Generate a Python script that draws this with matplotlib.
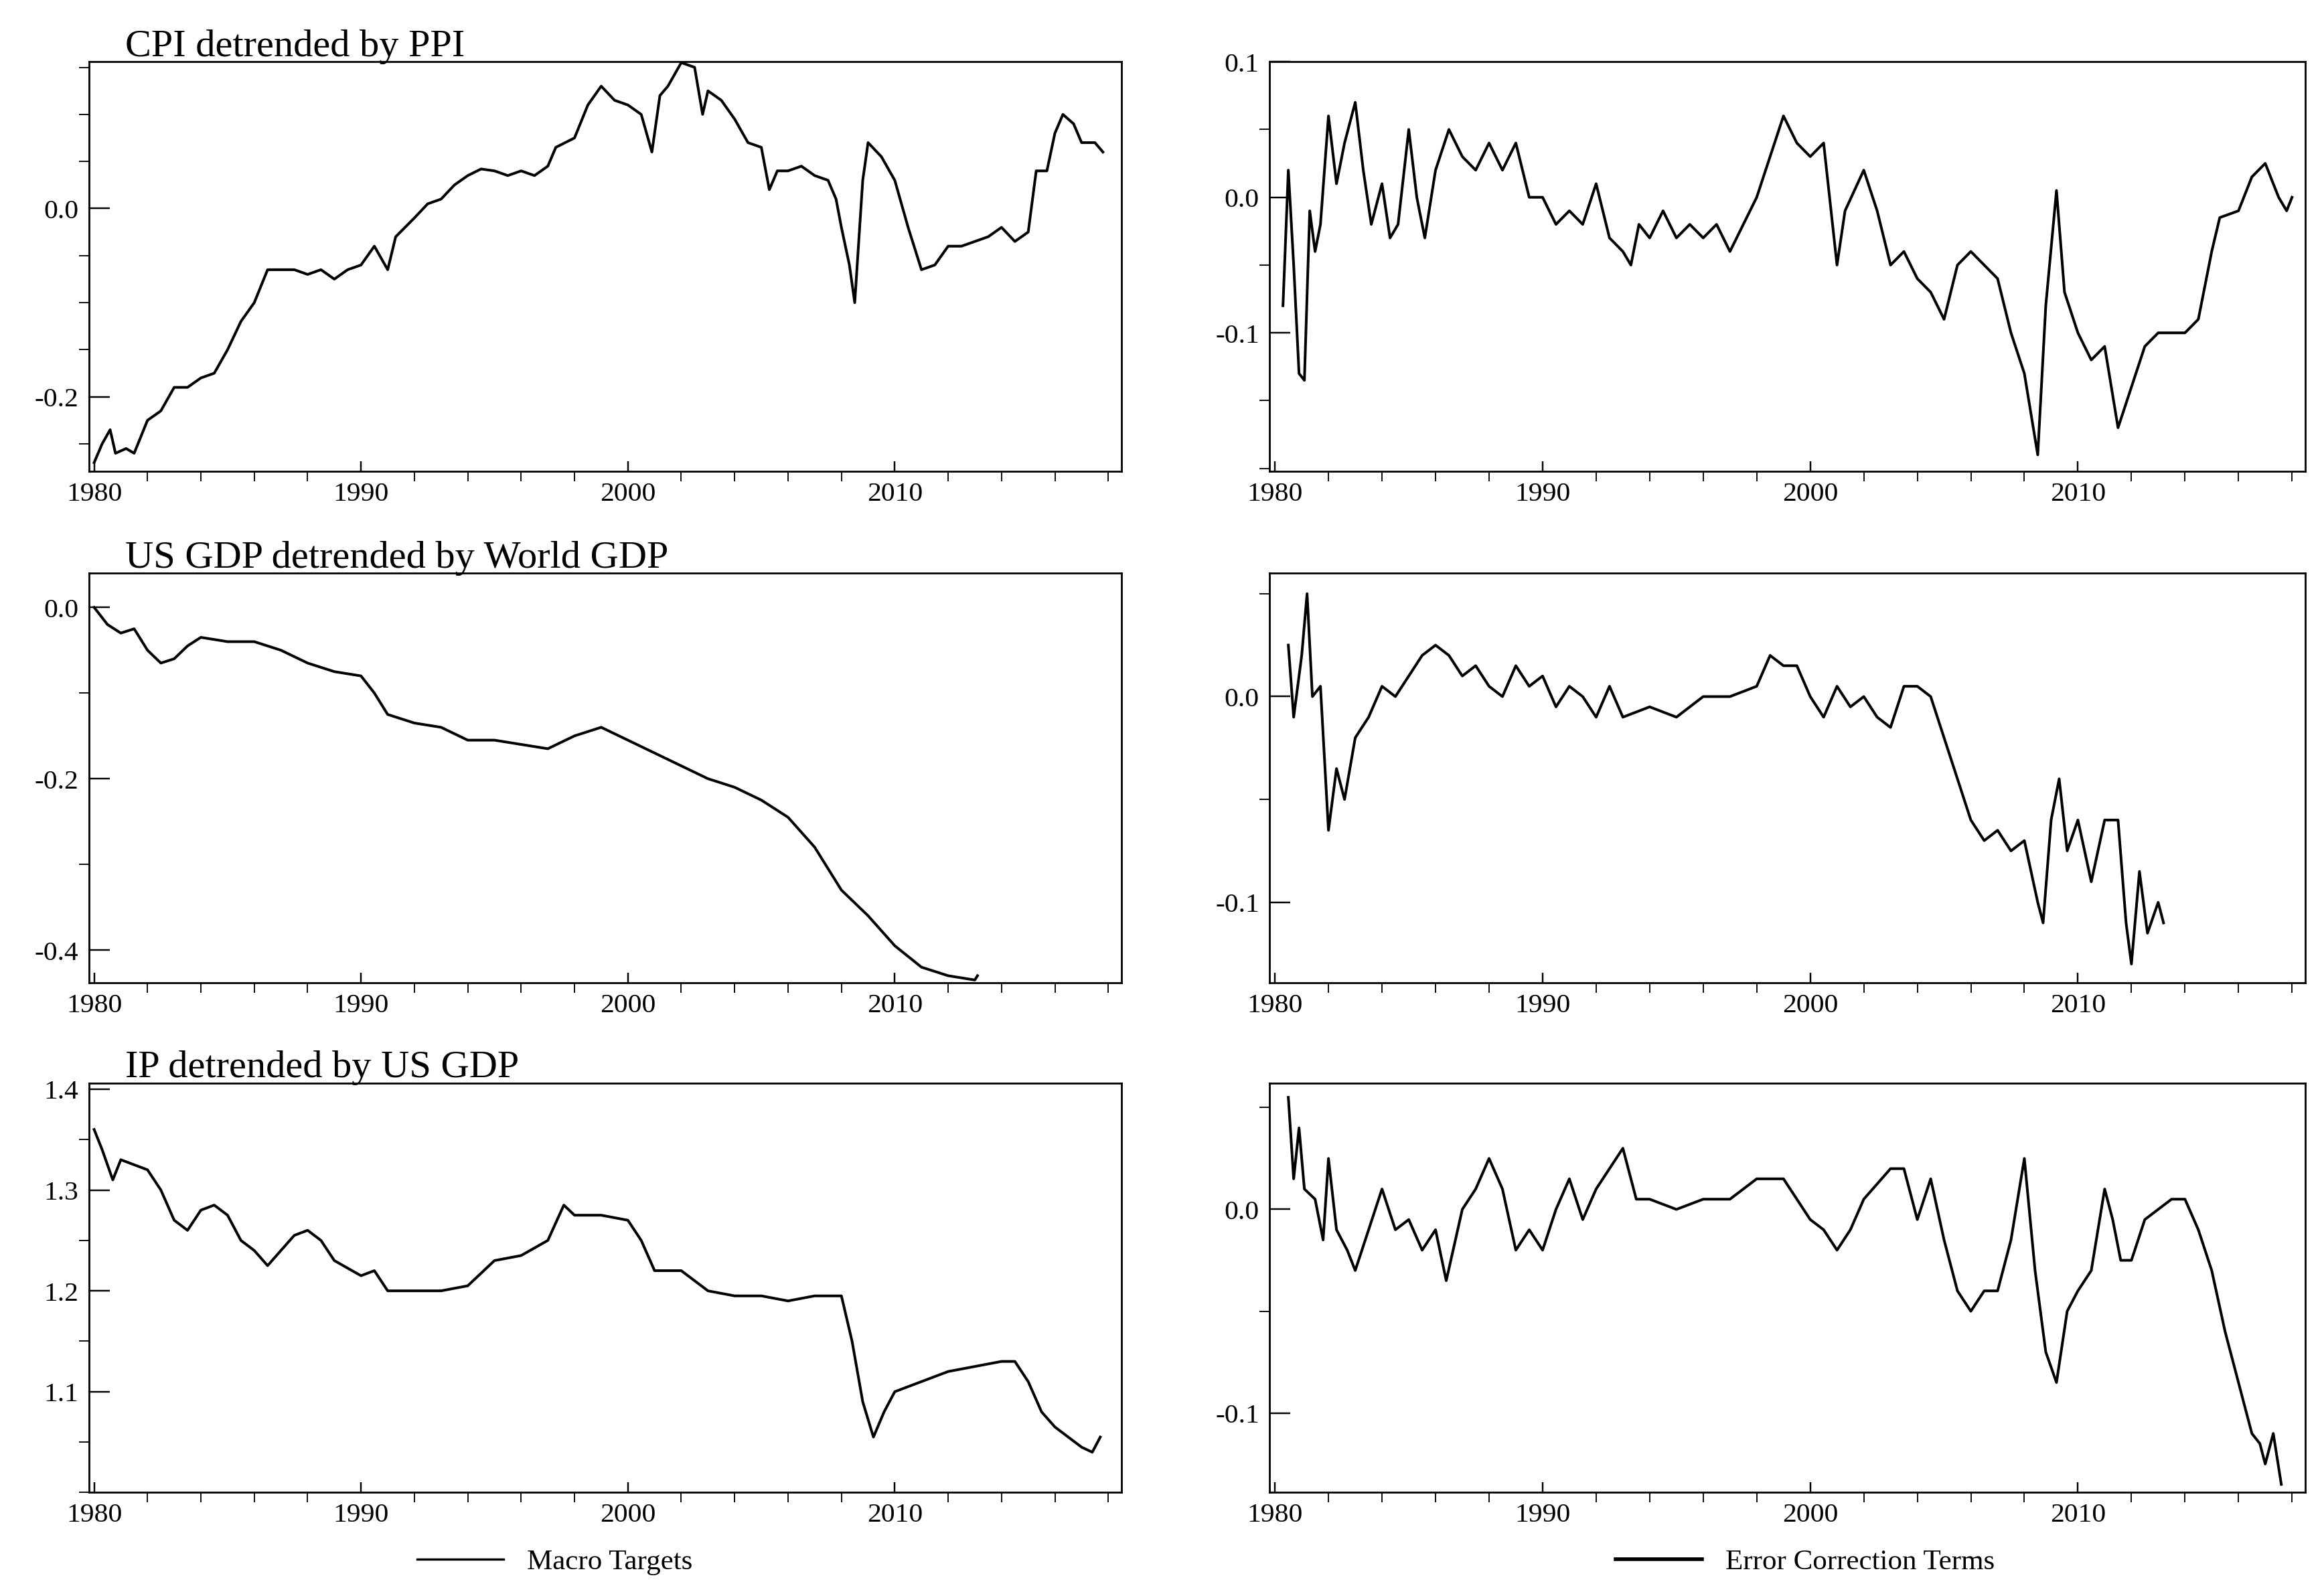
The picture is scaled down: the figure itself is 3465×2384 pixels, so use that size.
import matplotlib
matplotlib.use('Agg')
import matplotlib.pyplot as plt
from matplotlib.ticker import FormatStrFormatter, MultipleLocator
from matplotlib.lines import Line2D

plt.rcParams['font.family'] = ['Liberation Serif', 'DejaVu Serif']
plt.rcParams['axes.unicode_minus'] = False

# --- data ---
cpi_x = [1980.0, 1980.3, 1980.6, 1980.8, 1981.2, 1981.5, 1982, 1982.5, 1983, 1983.5, 1984, 1984.5, 1985, 1985.5,
         1986, 1986.5, 1987, 1987.5, 1988, 1988.5, 1989, 1989.5, 1990, 1990.5, 1991, 1991.3, 1992, 1992.5, 1993,
         1993.5, 1994, 1994.5, 1995, 1995.5, 1996, 1996.5, 1997, 1997.3, 1998, 1998.5, 1999, 1999.5, 2000, 2000.5,
         2000.9, 2001.2, 2001.5, 2002, 2002.5, 2002.8, 2003, 2003.5, 2004, 2004.5, 2005, 2005.3, 2005.6, 2006,
         2006.5, 2007, 2007.5, 2007.8, 2008, 2008.3, 2008.5, 2008.8, 2009, 2009.5, 2010, 2010.5, 2011, 2011.5,
         2012, 2012.5, 2013, 2013.5, 2014, 2014.5, 2015, 2015.3, 2015.7, 2016, 2016.3, 2016.7, 2017, 2017.5, 2017.8]
cpi_y = [-0.27, -0.25, -0.235, -0.26, -0.255, -0.26, -0.225, -0.215, -0.19, -0.19, -0.18, -0.175, -0.15, -0.12,
         -0.1, -0.065, -0.065, -0.065, -0.07, -0.065, -0.075, -0.065, -0.06, -0.04, -0.065, -0.03, -0.01, 0.005, 0.01,
         0.025, 0.035, 0.042, 0.04, 0.035, 0.04, 0.035, 0.045, 0.065, 0.075, 0.11, 0.13, 0.115, 0.11, 0.1,
         0.06, 0.12, 0.13, 0.155, 0.15, 0.1, 0.125, 0.115, 0.095, 0.07, 0.065, 0.02, 0.04, 0.04,
         0.045, 0.035, 0.03, 0.01, -0.02, -0.06, -0.1, 0.03, 0.07, 0.055, 0.03, -0.02, -0.065, -0.06,
         -0.04, -0.04, -0.035, -0.03, -0.02, -0.035, -0.025, 0.04, 0.04, 0.08, 0.1, 0.09, 0.07, 0.07, 0.06]

cpi_ec_x = [1980.3, 1980.5, 1980.7, 1980.9, 1981.1, 1981.3, 1981.5, 1981.7, 1982, 1982.3, 1982.6, 1983, 1983.3,
            1983.6, 1984, 1984.3, 1984.6, 1985, 1985.3, 1985.6, 1986, 1986.5, 1987, 1987.5, 1988, 1988.5, 1989,
            1989.5, 1990, 1990.5, 1991, 1991.5, 1992, 1992.5, 1993, 1993.3, 1993.6, 1994, 1994.5, 1995, 1995.5,
            1996, 1996.5, 1997, 1997.5, 1998, 1998.5, 1999, 1999.5, 2000, 2000.5, 2001, 2001.3, 2002, 2002.5,
            2003, 2003.5, 2004, 2004.5, 2005, 2005.5, 2006, 2006.5, 2007, 2007.5, 2008, 2008.5, 2008.8, 2009.2,
            2009.5, 2010, 2010.5, 2011, 2011.5, 2012, 2012.5, 2013, 2013.5, 2014, 2014.5, 2015, 2015.3, 2016,
            2016.5, 2017, 2017.5, 2017.8, 2018.0]
cpi_ec_y = [-0.08, 0.02, -0.05, -0.13, -0.135, -0.01, -0.04, -0.02, 0.06, 0.01, 0.04, 0.07, 0.02,
            -0.02, 0.01, -0.03, -0.02, 0.05, 0.0, -0.03, 0.02, 0.05, 0.03, 0.02, 0.04, 0.02, 0.04,
            0.0, 0.0, -0.02, -0.01, -0.02, 0.01, -0.03, -0.04, -0.05, -0.02, -0.03, -0.01, -0.03, -0.02,
            -0.03, -0.02, -0.04, -0.02, 0.0, 0.03, 0.06, 0.04, 0.03, 0.04, -0.05, -0.01, 0.02, -0.01,
            -0.05, -0.04, -0.06, -0.07, -0.09, -0.05, -0.04, -0.05, -0.06, -0.1, -0.13, -0.19, -0.08, 0.005,
            -0.07, -0.1, -0.12, -0.11, -0.17, -0.14, -0.11, -0.1, -0.1, -0.1, -0.09, -0.04, -0.015, -0.01,
            0.015, 0.025, 0.0, -0.01, 0.0]

gdp_x = [1980, 1980.5, 1981, 1981.5, 1982, 1982.5, 1983, 1983.5, 1984, 1985, 1986, 1987, 1988, 1989, 1990, 1990.5,
         1991, 1992, 1993, 1994, 1995, 1996, 1997, 1998, 1999, 2000, 2001, 2002, 2003, 2004, 2005, 2006, 2007,
         2008, 2009, 2010, 2011, 2012, 2013, 2013.1]
gdp_y = [0.0, -0.02, -0.03, -0.025, -0.05, -0.065, -0.06, -0.045, -0.035, -0.04, -0.04, -0.05, -0.065, -0.075,
         -0.08, -0.1, -0.125, -0.135, -0.14, -0.155, -0.155, -0.16, -0.165, -0.15, -0.14, -0.155, -0.17, -0.185,
         -0.2, -0.21, -0.225, -0.245, -0.28, -0.33, -0.36, -0.395, -0.42, -0.43, -0.435, -0.43]

gdp_ec_x = [1980.5, 1980.7, 1981, 1981.2, 1981.4, 1981.7, 1982, 1982.3, 1982.6, 1983, 1983.5, 1984, 1984.5, 1985,
            1985.5, 1986, 1986.5, 1987, 1987.5, 1988, 1988.5, 1989, 1989.5, 1990, 1990.5, 1991, 1991.5, 1992,
            1992.5, 1993, 1994, 1995, 1996, 1997, 1998, 1998.5, 1999, 1999.5, 2000, 2000.5, 2001, 2001.5, 2002,
            2002.5, 2003, 2003.5, 2004, 2004.5, 2005, 2005.5, 2006, 2006.5, 2007, 2007.5, 2008, 2008.5, 2008.7,
            2009, 2009.3, 2009.6, 2010, 2010.5, 2011, 2011.5, 2011.8, 2012, 2012.3, 2012.6, 2013, 2013.2]
gdp_ec_y = [0.025, -0.01, 0.02, 0.05, 0.0, 0.005, -0.065, -0.035, -0.05, -0.02, -0.01, 0.005, 0.0, 0.01,
            0.02, 0.025, 0.02, 0.01, 0.015, 0.005, 0.0, 0.015, 0.005, 0.01, -0.005, 0.005, 0.0, -0.01,
            0.005, -0.01, -0.005, -0.01, 0.0, 0.0, 0.005, 0.02, 0.015, 0.015, 0.0, -0.01, 0.005, -0.005, 0.0,
            -0.01, -0.015, 0.005, 0.005, 0.0, -0.02, -0.04, -0.06, -0.07, -0.065, -0.075, -0.07, -0.1, -0.11,
            -0.06, -0.04, -0.075, -0.06, -0.09, -0.06, -0.06, -0.11, -0.13, -0.085, -0.115, -0.1, -0.11]

ip_x = [1980, 1980.3, 1980.7, 1981, 1981.5, 1982, 1982.5, 1983, 1983.5, 1984, 1984.5, 1985, 1985.5, 1986, 1986.5,
        1987, 1987.5, 1988, 1988.5, 1989, 1990, 1990.5, 1991, 1992, 1993, 1994, 1995, 1996, 1997, 1997.6, 1998,
        1999, 2000, 2000.5, 2001, 2002, 2003, 2004, 2005, 2006, 2007, 2008, 2008.4, 2008.8, 2009.2, 2009.6, 2010,
        2011, 2012, 2013, 2014, 2014.5, 2015, 2015.5, 2016, 2016.5, 2017, 2017.4, 2017.7]
ip_y = [1.36, 1.34, 1.31, 1.33, 1.325, 1.32, 1.3, 1.27, 1.26, 1.28, 1.285, 1.275, 1.25, 1.24, 1.225,
        1.24, 1.255, 1.26, 1.25, 1.23, 1.215, 1.22, 1.2, 1.2, 1.2, 1.205, 1.23, 1.235, 1.25, 1.285, 1.275,
        1.275, 1.27, 1.25, 1.22, 1.22, 1.2, 1.195, 1.195, 1.19, 1.195, 1.195, 1.15, 1.09, 1.055, 1.08, 1.1,
        1.11, 1.12, 1.125, 1.13, 1.13, 1.11, 1.08, 1.065, 1.055, 1.045, 1.04, 1.055]

ip_ec_x = [1980.5, 1980.7, 1980.9, 1981.1, 1981.5, 1981.8, 1982, 1982.3, 1982.7, 1983, 1983.5, 1984, 1984.5, 1985,
           1985.5, 1986, 1986.4, 1987, 1987.5, 1988, 1988.5, 1989, 1989.5, 1990, 1990.5, 1991, 1991.5, 1992,
           1992.5, 1993, 1993.5, 1994, 1995, 1996, 1997, 1998, 1999, 2000, 2000.5, 2001, 2001.5, 2002, 2003,
           2003.5, 2004, 2004.5, 2005, 2005.5, 2006, 2006.5, 2007, 2007.5, 2008, 2008.4, 2008.8, 2009.2, 2009.6,
           2010, 2010.5, 2011, 2011.3, 2011.6, 2012, 2012.5, 2013, 2013.5, 2014, 2014.5, 2015, 2015.5, 2016,
           2016.5, 2016.8, 2017, 2017.3, 2017.6]
ip_ec_y = [0.055, 0.015, 0.04, 0.01, 0.005, -0.015, 0.025, -0.01, -0.02, -0.03, -0.01, 0.01, -0.01, -0.005,
           -0.02, -0.01, -0.035, 0.0, 0.01, 0.025, 0.01, -0.02, -0.01, -0.02, 0.0, 0.015, -0.005, 0.01,
           0.02, 0.03, 0.005, 0.005, 0.0, 0.005, 0.005, 0.015, 0.015, -0.005, -0.01, -0.02, -0.01, 0.005, 0.02,
           0.02, -0.005, 0.015, -0.015, -0.04, -0.05, -0.04, -0.04, -0.015, 0.025, -0.03, -0.07, -0.085, -0.05,
           -0.04, -0.03, 0.01, -0.005, -0.025, -0.025, -0.005, 0.0, 0.005, 0.005, -0.01, -0.03, -0.06, -0.085,
           -0.11, -0.115, -0.125, -0.11, -0.135]

titles = ['CPI detrended by PPI', 'US GDP detrended by World GDP', 'IP detrended by US GDP']

panels = [
    (cpi_x, cpi_y, (-0.279, 0.156), [-0.2, 0.0], 0.05),
    (cpi_ec_x, cpi_ec_y, (-0.202, 0.1), [-0.1, 0.0, 0.1], 0.05),
    (gdp_x, gdp_y, (-0.438, 0.04), [-0.4, -0.2, 0.0], 0.1),
    (gdp_ec_x, gdp_ec_y, (-0.139, 0.06), [-0.1, 0.0], 0.05),
    (ip_x, ip_y, (1.0, 1.406), [1.1, 1.2, 1.3, 1.4], 0.05),
    (ip_ec_x, ip_ec_y, (-0.139, 0.062), [-0.1, 0.0], 0.05),
]

W, H = 1568, 1080
fig = plt.figure(figsize=(15.68, 10.79), dpi=221)
lefts = [60, 858]
widths = [698, 700]
tops = [42, 388, 733]
hgt = 277

for i, (x, y, ylim, yt, ymin) in enumerate(panels):
    r, c = divmod(i, 2)
    ax = fig.add_axes([lefts[c] / W, 1 - (tops[r] + hgt) / H, widths[c] / W, hgt / H])
    ax.plot(x, y, color='black', lw=1.3)
    ax.set_xlim(1979.8, 2018.5)
    ax.set_ylim(*ylim)
    ax.set_xticks([1980, 1990, 2000, 2010])
    ax.xaxis.set_minor_locator(MultipleLocator(2))
    ax.set_yticks(yt)
    ax.yaxis.set_minor_locator(MultipleLocator(ymin))
    ax.yaxis.set_major_formatter(FormatStrFormatter('%.1f'))
    ax.tick_params(labelsize=13.5, direction='in', pad=5)
    ax.tick_params(axis='x', which='both', length=5)
    ax.tick_params(axis='y', which='major', length=10)
    ax.tick_params(axis='y', which='minor', length=5)
    for s in ax.spines.values():
        s.set_linewidth(0.9)
    if c == 0:
        ax.text(0.035, 0.995, titles[r], transform=ax.transAxes, fontsize=19, va='bottom', ha='left')

h = [Line2D([], [], color='black', lw=1.1)]
fig.legend(h, ['Macro Targets'], loc='center', bbox_to_anchor=(375 / W, 1 - 1057 / H), frameon=False,
           fontsize=14, handlelength=3)
fig.legend([Line2D([], [], color='black', lw=1.8)], ['Error Correction Terms'], loc='center',
           bbox_to_anchor=(1220 / W, 1 - 1057 / H), frameon=False, fontsize=14, handlelength=3)

fig.savefig('out.png', dpi=221)
